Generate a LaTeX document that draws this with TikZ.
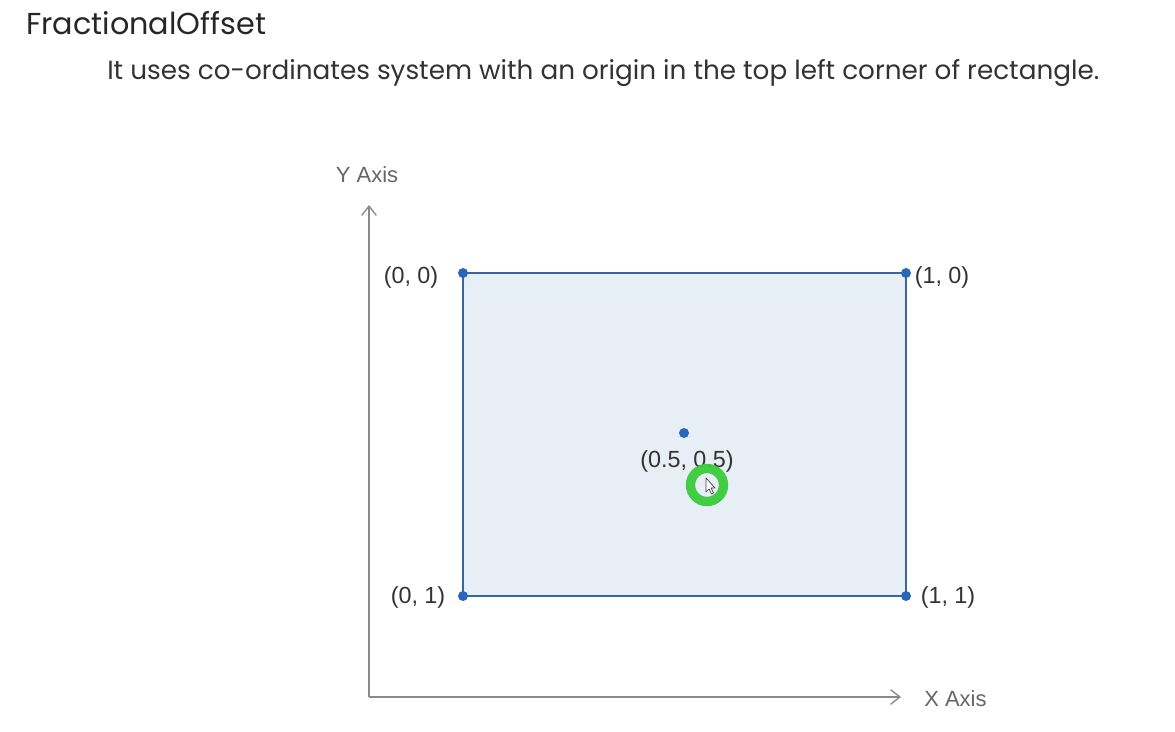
\documentclass[tikz,border=0pt]{standalone}
\usepackage{fontspec}
\setmainfont{Liberation Sans}
\newfontfamily\popfont{Poppins}
\usetikzlibrary{arrows.meta}
\definecolor{rectfill}{HTML}{E7EEF6}
\definecolor{rectline}{HTML}{3A64A0}
\definecolor{dotblue}{HTML}{2A66BA}
\definecolor{axisgray}{HTML}{8A8A8A}
\definecolor{labeltxt}{HTML}{333333}
\definecolor{axistxt}{HTML}{666666}
\definecolor{ringgreen}{HTML}{3ACC3A}
\tikzset{
  corner/.style={circle,fill=dotblue,inner sep=0pt,minimum size=7.5pt},
  coordlabel/.style={inner sep=0pt,text=labeltxt,font=\fontsize{17.5pt}{20pt}\selectfont},
  axislabel/.style={inner sep=0pt,text=axistxt,font=\fontsize{16.5pt}{19pt}\selectfont},
  axisline/.style={draw=axisgray,line width=1.1pt,-{Straight Barb[length=7pt,width=11pt,line width=1pt]}},
}
\begin{document}
\begin{tikzpicture}[x=0.75pt,y=-0.75pt]
\useasboundingbox[fill=white] (0,0) rectangle (1175,732);
% title and subtitle
\node[anchor=west,inner sep=0pt,text=black!85,font=\popfont\fontsize{22.7pt}{26pt}\selectfont] (title) at (26,23) {FractionalOffset};
\node[anchor=west,inner sep=0pt,text=black!80,font=\popfont\fontsize{19.7pt}{23pt}\selectfont] (sub) at (107,73) {It uses co-ordinates system with an origin in the top left corner of rectangle.};
% rectangle
\draw[fill=rectfill,draw=rectline,line width=1.1pt] (463,273) rectangle (906,596);
% axes
\coordinate (O) at (369,697);
\coordinate (ytop) at (369,205);
\coordinate (xend) at (901,697);
\draw[axisline] (O) -- (ytop);
\draw[axisline] (O) -- (xend);
\node[axislabel] (ylab) at (367,175) {Y Axis};
\node[axislabel,anchor=west] (xlab) at (924,699) {X Axis};
% corner dots
\node[corner] (c00) at (463,273) {};
\node[corner] (c10) at (906,273) {};
\node[corner] (c01) at (463,596) {};
\node[corner] (c11) at (906,596) {};
\node[corner] (mid) at (684,433) {};
% labels
\node[coordlabel] (l00) at (411,277) {(0, 0)};
\node[coordlabel] (l10) at (942,277) {(1, 0)};
\node[coordlabel] (l01) at (418,597) {(0, 1)};
\node[coordlabel] (l11) at (948,597) {(1, 1)};
\node[coordlabel] (lmid) at (687,461) {(0.5, 0.5)};
% cursor ring
\draw[ringgreen,line width=7pt,opacity=0.95] (707,485) circle (16.5);
\draw[fill=white,draw=black!75,line width=0.5pt,line join=round]
  (706,478) -- (706,492) -- (709,489) -- (711.5,494) -- (713.5,493) -- (711,488) -- (715,488) -- cycle;
\end{tikzpicture}
\end{document}
